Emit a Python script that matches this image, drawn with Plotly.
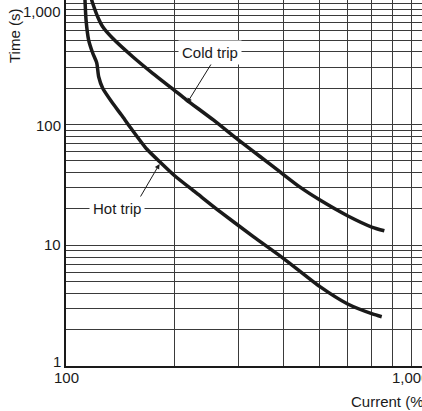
import math
import plotly.graph_objects as go

# ---- data ----
cold_x = [117.5, 118.5, 122.3, 126.3, 134.6, 152.9, 173.6, 201.3, 214.5, 255.3,
          299.2, 343.5, 390.3, 443.1, 503, 601, 702, 757.5]
cold_y = [1100, 1012, 783, 647, 519, 365, 266, 188, 161.4, 109.2,
          74.6, 54.4, 40.5, 30.3, 23.7, 17.5, 14.1, 13.2]

hot_x = [112.8, 113.6, 115.5, 118.5, 121.6, 123.1, 126.3, 134.6, 142.3, 151.2,
         167.1, 183, 200, 229.6, 266.3, 329.2, 398.4, 503, 600, 702, 745]
hot_y = [1100, 736, 502, 392, 324, 249, 200, 150.2, 120.1, 93.2,
         62.8, 48.1, 37.5, 27, 19, 11.8, 7.8, 4.54, 3.26, 2.7, 2.56]

x_grid = [100, 200, 300, 400, 500, 600, 700, 800, 900]
y_grid = [m * 10 ** e for e in range(3) for m in range(1, 10)] + [1000]

x_tick_vals = [100, 1000]
x_tick_text = ["100", "1,000"]
x_tick_shift = [0, -17]
y_tick_vals = [1, 10, 100, 1000]
y_tick_text = ["1", "10", "100", "1,000"]
y_tick_shift = [5, 1, -1, -8]

x_title = "Current (%)"
y_title = "Time (s)"

labels = [
    # text, text-x, text-y, arrow-head-x, arrow-head-y, arrow tail offset (px)
    ("Cold trip", 250.7, 392, 216, 151, 26, -42),
    ("Hot trip", 138, 20, 181.3, 47.2, -21, 36),
]

# ---- figure ----
W, H = 422, 411
ML, MB, MT, MR = 66, 45, 0, 0
x_range = [2, 2 + (W - ML - MR) / 362.0]
y_range = [0, (H - MB - MT) / 120.7]

font = "Liberation Sans, Arial, Helvetica, sans-serif"
ink = "#1a1a1a"

fig = go.Figure()
fig.add_trace(go.Scatter(x=cold_x, y=cold_y, mode="lines", name="Cold trip",
                         line=dict(color=ink, width=3.5, shape="spline", smoothing=0.6)))
fig.add_trace(go.Scatter(x=hot_x, y=hot_y, mode="lines", name="Hot trip",
                         line=dict(color=ink, width=3.5, shape="spline", smoothing=0.6)))

ann = []
for txt, tx, ty, hx, hy, ax, ay in labels:
    ann.append(dict(x=math.log10(hx), y=math.log10(hy), xref="x", yref="y",
                    text="", showarrow=True, ax=ax, ay=ay, arrowhead=2,
                    arrowsize=1, arrowwidth=1, arrowcolor=ink, standoff=0))
    ann.append(dict(x=math.log10(tx), y=math.log10(ty), xref="x", yref="y",
                    text=txt, showarrow=False, bgcolor="white", borderpad=3,
                    font=dict(family=font, size=15, color=ink)))

for v, t, s in zip(y_tick_vals, y_tick_text, y_tick_shift):
    ann.append(dict(x=0, y=(math.log10(v) - y_range[0]) / (y_range[1] - y_range[0]),
                    xref="paper", yref="paper", text=t, showarrow=False,
                    xanchor="right", yanchor="middle", xshift=-3, yshift=s,
                    font=dict(family=font, size=15, color=ink)))

for v, t, s in zip(x_tick_vals, x_tick_text, x_tick_shift):
    ann.append(dict(x=(math.log10(v) - x_range[0]) / (x_range[1] - x_range[0]), y=0,
                    xref="paper", yref="paper", text=t, showarrow=False,
                    xanchor="center", yanchor="middle", yshift=-11, xshift=s,
                    font=dict(family=font, size=15, color=ink)))

ann.append(dict(x=(349 - ML) / (W - ML - MR), y=0, xref="paper", yref="paper",
                text=x_title, showarrow=False, xanchor="left", yanchor="middle",
                yshift=-35, font=dict(family=font, size=15, color=ink)))
ann.append(dict(x=(14 - ML) / (W - ML - MR), y=(H - MB - 36) / (H - MB - MT),
                xref="paper", yref="paper", text=y_title, showarrow=False,
                textangle=-90, xanchor="center", yanchor="middle",
                font=dict(family=font, size=15, color=ink)))

fig.update_layout(
    width=W, height=H,
    margin=dict(l=ML, r=MR, t=MT, b=MB),
    paper_bgcolor="white", plot_bgcolor="white",
    showlegend=False,
    annotations=ann,
    xaxis=dict(type="log", range=x_range, tickvals=x_grid, showticklabels=False,
               showgrid=True, gridcolor="#3a3a3a", gridwidth=1, ticks="",
               showline=True, linecolor=ink, linewidth=1.5, mirror=False),
    yaxis=dict(type="log", range=y_range, tickvals=y_grid, showticklabels=False,
               showgrid=True, gridcolor="#3a3a3a", gridwidth=1, ticks="",
               showline=True, linecolor=ink, linewidth=1.5, mirror=False),
)

fig.write_html("out.html",
               config={"displayModeBar": False},
               post_script="document.body.style.margin='0px';"
                           "document.body.style.overflow='hidden';")
